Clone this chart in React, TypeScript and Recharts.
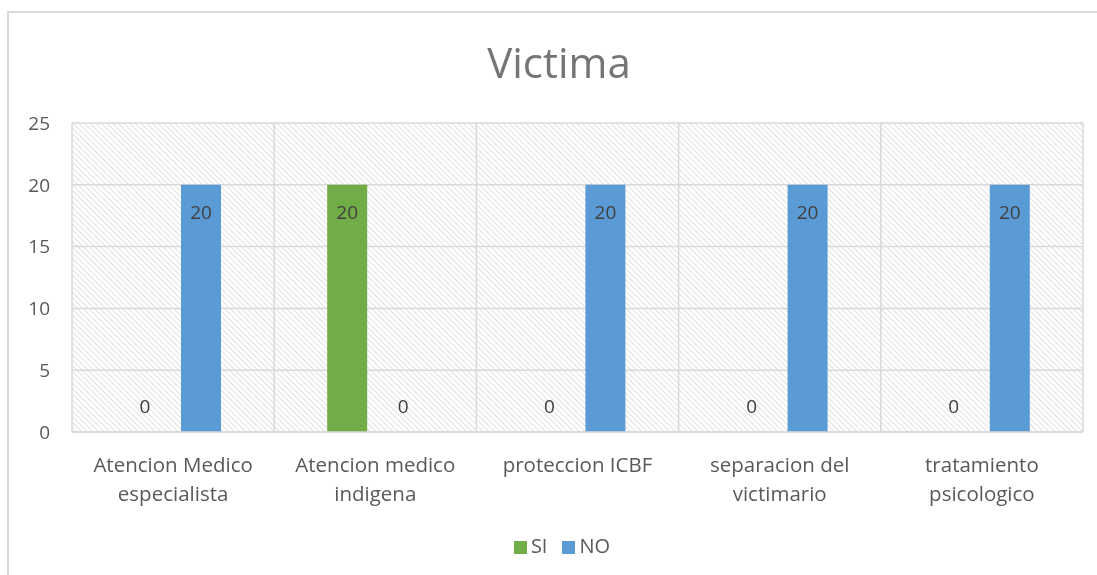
import { Bar, BarChart, CartesianGrid, LabelList, Legend, XAxis, YAxis } from 'recharts'

const categories = [
  'Atencion Medico especialista',
  'Atencion medico indigena',
  'proteccion ICBF',
  'separacion del victimario',
  'tratamiento psicologico',
]
const tickLines = [
  ['Atencion Medico', 'especialista'],
  ['Atencion medico', 'indigena'],
  ['proteccion ICBF'],
  ['separacion del', 'victimario'],
  ['tratamiento', 'psicologico'],
]
const seriesNames = ['SI', 'NO']
const siValues = [0, 20, 0, 0, 0]
const noValues = [20, 0, 20, 20, 20]
const yTicks = [0, 5, 10, 15, 20, 25]

const data = categories.map((name, i) => ({ name, SI: siValues[i], NO: noValues[i] }))

const FONT = '"Open Sans", "Noto Sans", sans-serif'
const GRID = '#d9d9d9'
const TEXT = '#595959'

function CategoryTick({ x, y, payload }: any) {
  const idx = categories.indexOf(payload.value)
  const lines = tickLines[idx] ?? [payload.value]
  return (
    <text x={x} y={y} textAnchor="middle" fill={TEXT} fontSize={20.5} fontFamily={FONT}>
      {lines.map((line, i) => (
        <tspan key={i} x={x} dy={i === 0 ? 32 : 29}>
          {line}
        </tspan>
      ))}
    </text>
  )
}

function BarValue({ x, y, width, value }: any) {
  const cx = x + width / 2
  const cy = value > 0 ? y + 28 : y - 26
  return (
    <text x={cx} y={cy} dy="0.35em" textAnchor="middle" fill="#404040" fontSize={19} fontFamily={FONT}>
      {value}
    </text>
  )
}

export default function App() {
  // fixed so nothing spills past the viewport
  return (
    <div style={{ position: 'fixed', left: 0, top: 0, width: 1097, height: 575, overflow: 'hidden', fontFamily: FONT }}>
      <div
        style={{
          position: 'absolute',
          left: 7,
          top: 11,
          width: 1400,
          height: 800,
          borderTop: `2px solid ${GRID}`,
          borderLeft: `2px solid ${GRID}`,
          boxSizing: 'border-box',
        }}
      />
      <div
        style={{
          position: 'absolute',
          left: 8,
          top: 35,
          width: 1102,
          textAlign: 'center',
          fontSize: 42,
          color: '#757575',
          lineHeight: '54px',
        }}
      >
        Victima
      </div>
      <div style={{ position: 'absolute', left: 8, top: 8 }}>
        <BarChart
          width={1089}
          height={567}
          data={data}
          margin={{ top: 115, right: 14, left: 24, bottom: 26 }}
          barSize={40}
          barGap={16}
        >
          <defs>
            <pattern id="hatch" width="4" height="4" patternUnits="userSpaceOnUse" patternTransform="rotate(-45)">
              <line x1="0" y1="0" x2="0" y2="4" stroke="#d2d2d2" strokeWidth={1.4} />
            </pattern>
          </defs>
          <CartesianGrid
            stroke={GRID}
            strokeWidth={1.5}
            fill="url(#hatch)"
            verticalCoordinatesGenerator={({ offset }: any) =>
              categories.map((_, i) => offset.left + (i * offset.width) / categories.length).concat(offset.left + offset.width)
            }
          />
          <XAxis
            dataKey="name"
            interval={0}
            height={90}
            axisLine={{ stroke: GRID, strokeWidth: 1.5 }}
            tickLine={false}
            tick={<CategoryTick />}
          />
          <YAxis
            domain={[0, 25]}
            ticks={yTicks}
            width={40}
            axisLine={false}
            tickLine={false}
            tickMargin={16}
            tick={{ fill: TEXT, fontSize: 19, fontFamily: FONT }}
          />
          <Legend
            verticalAlign="bottom"
            align="center"
            iconType="square"
            iconSize={13}
            itemSorter={(item: any) => seriesNames.indexOf(item.value)}
            wrapperStyle={{ fontSize: 20, fontFamily: FONT, color: TEXT, bottom: 16, left: 0, width: 1123 }}
            formatter={(value: string) => <span style={{ color: TEXT, paddingRight: 5 }}>{value}</span>}
          />
          <Bar dataKey="SI" fill="#70ad47" minPointSize={0.01} isAnimationActive={false}>
            <LabelList dataKey="SI" content={<BarValue />} />
          </Bar>
          <Bar dataKey="NO" fill="#5b9bd5" minPointSize={0.01} isAnimationActive={false}>
            <LabelList dataKey="NO" content={<BarValue />} />
          </Bar>
        </BarChart>
      </div>
    </div>
  )
}
